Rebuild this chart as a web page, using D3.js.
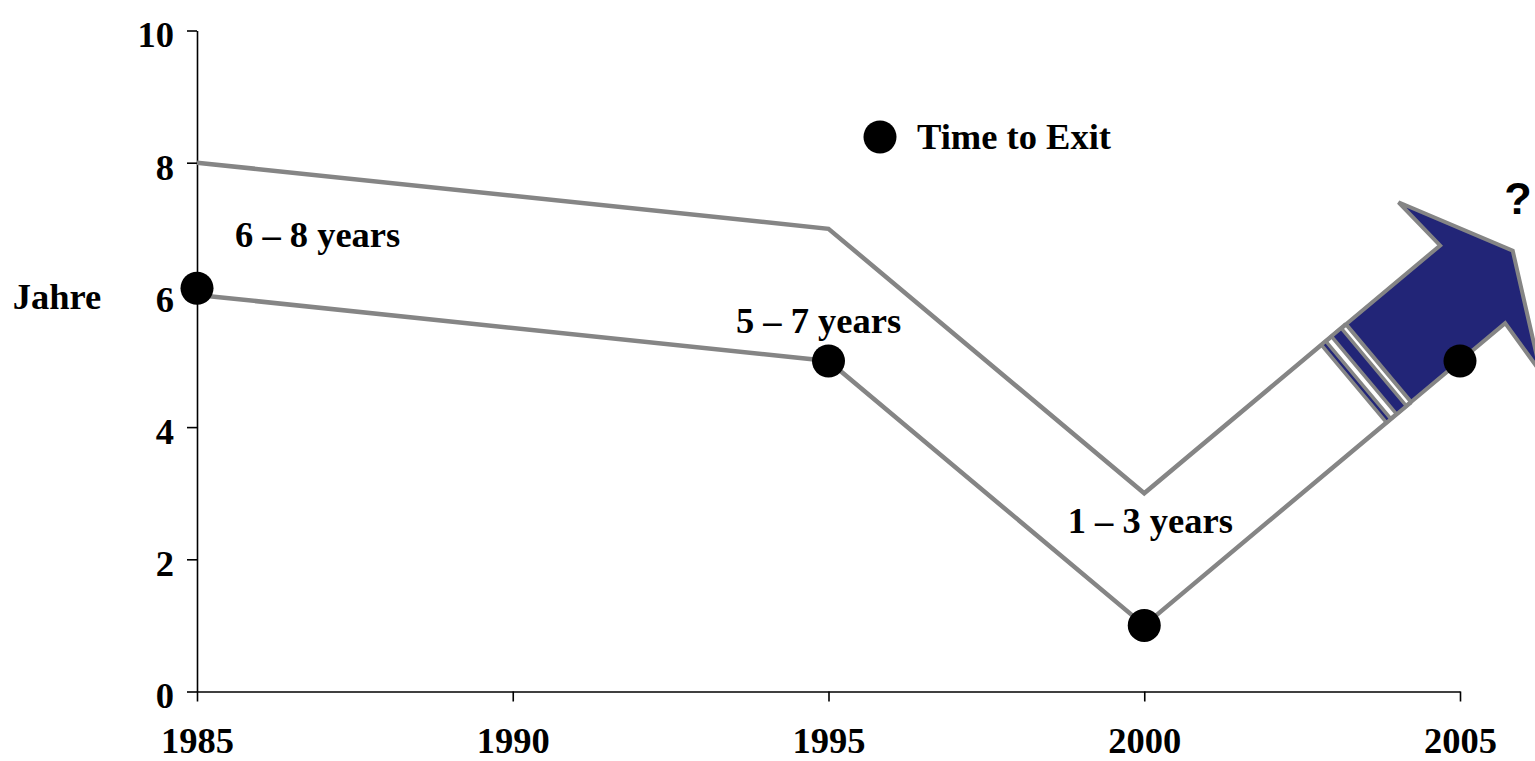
<!DOCTYPE html>
<html>
<head>
<meta charset="utf-8">
<script src="https://cdn.jsdelivr.net/npm/d3@7"></script>
<style>
  body { margin: 0; background: #fff; }
  svg text { font-family: "Liberation Serif", "Times New Roman", serif; font-weight: bold; fill: #000; }
</style>
</head>
<body>
<div id="chart"></div>
<script>
// Time to Exit chart data
const years = [1985, 1995, 2000, 2005];
const exitTime = [6.1, 5, 1, 5];
const rangeYears = [1985, 1995, 2000];
const upperBound = [8, 7, 3];
const lowerBound = [6, 5, 1];
const rangeLabels = ['6 \u2013 8 years', '5 \u2013 7 years', '1 \u2013 3 years'];
const trendEnd = { year: 2005, upper: 7, lower: 5 };
const xTicks = [1985, 1990, 1995, 2000, 2005];
const yTicks = [0, 2, 4, 6, 8, 10];

const W = 1535, H = 761;
const svg = d3.select('#chart').append('svg')
    .attr('width', W)
    .attr('height', H);

const x = d3.scaleLinear().domain([1985, 2005]).range([197, 1460]);
const y = d3.scaleLinear().domain([0, 10]).range([691.5, 30.5]);

const fontSize = 36.5;
const gray = '#858585';
const navy = '#222577';

// Axes
const yAxis = svg.append('g')
    .attr('transform', `translate(${x(1985)},0)`)
    .call(d3.axisLeft(y).tickValues(yTicks).tickSize(10).tickSizeOuter(0).tickPadding(13));
const xAxis = svg.append('g')
    .attr('transform', `translate(0,${y(0)})`)
    .call(d3.axisBottom(x).tickValues(xTicks).tickFormat(d3.format('d')).tickSize(10).tickSizeOuter(0));

[yAxis, xAxis].forEach(g => {
    g.select('.domain').attr('stroke', '#000').attr('stroke-width', 1.6);
    g.selectAll('.tick line').attr('stroke', '#000').attr('stroke-width', 1.6);
    g.selectAll('.tick text')
        .style('font-family', '"Liberation Serif", "Times New Roman", serif')
        .style('font-weight', 'bold')
        .style('font-size', fontSize + 'px')
        .attr('fill', '#000');
});
yAxis.selectAll('.tick text').attr('dy', '0.45em');
xAxis.selectAll('.tick text').attr('dy', 0).attr('y', 61);

// Y axis title
svg.append('text')
    .attr('x', 57)
    .attr('y', 309)
    .attr('text-anchor', 'middle')
    .style('font-size', fontSize + 'px')
    .text('Jahre');

// Trend arrow geometry (from the range lines at 2000 to their 2005 trend)
const p0u = [x(rangeYears[2]), y(upperBound[2])];
const p0l = [x(rangeYears[2]), y(lowerBound[2])];
const p1u = [x(trendEnd.year), y(trendEnd.upper)];
const p1l = [x(trendEnd.year), y(trendEnd.lower)];
const m0 = [(p0u[0] + p0l[0]) / 2, (p0u[1] + p0l[1]) / 2];
const m1 = [(p1u[0] + p1l[0]) / 2, (p1u[1] + p1l[1]) / 2];
const len = Math.hypot(m1[0] - m0[0], m1[1] - m0[1]);
const u = [(m1[0] - m0[0]) / len, (m1[1] - m0[1]) / len];
const n = [-u[1], u[0]];
// half width measured perpendicular to the shaft
const hw = Math.abs((p0l[0] - m0[0]) * n[0] + (p0l[1] - m0[1]) * n[1]);
const pt = (a, b) => [m0[0] + u[0] * a + n[0] * b, m0[1] + u[1] * a + n[1] * b];

const bodyStart = 0.742 * len;
const notch = 1.04 * len;
const barb = 1.03 * len;
const tip = 1.167 * len;
const barbW = 2.18 * hw;

// Range boundary lines
const line = d3.line().x(d => d[0]).y(d => d[1]);
const upperPts = rangeYears.map((yr, i) => [x(yr), y(upperBound[i])]).concat([pt(bodyStart, -hw)]);
const lowerPts = rangeYears.map((yr, i) => [x(yr), y(lowerBound[i])]).concat([pt(bodyStart, hw)]);
[upperPts, lowerPts].forEach(pts => {
    svg.append('path')
        .attr('d', line(pts))
        .attr('fill', 'none')
        .attr('stroke', gray)
        .attr('stroke-width', 4.5)
        .attr('stroke-linejoin', 'miter');
});

// Stripes at the arrow tail
const stripes = [[0.664, 0.678], [0.696, 0.727]];
stripes.forEach(s => {
    const a = s[0] * len, b = s[1] * len;
    svg.append('path')
        .attr('d', line([pt(a, -hw), pt(b, -hw), pt(b, hw), pt(a, hw)]) + 'Z')
        .attr('fill', navy)
        .attr('stroke', gray)
        .attr('stroke-width', 3.5);
});

// Arrow body
const arrowPts = [
    pt(bodyStart, -hw), pt(notch, -hw), pt(barb, -barbW), pt(tip, 0),
    pt(barb, barbW), pt(notch, hw), pt(bodyStart, hw)
];
svg.append('path')
    .attr('d', line(arrowPts) + 'Z')
    .attr('fill', navy)
    .attr('stroke', gray)
    .attr('stroke-width', 4)
    .attr('stroke-linejoin', 'miter');

// Data points
svg.selectAll('circle.pt')
    .data(years.map((yr, i) => ({ yr, v: exitTime[i] })))
    .join('circle')
    .attr('class', 'pt')
    .attr('cx', d => x(d.yr))
    .attr('cy', d => y(d.v))
    .attr('r', 16.5)
    .attr('fill', '#000');

// Range labels
const labelPos = [
    { dx: 38, dy: -41, anchor: 'start' },
    { dx: -10, dy: -28, anchor: 'middle' },
    { dx: 6, dy: -92, anchor: 'middle' }
];
rangeLabels.forEach((t, i) => {
    svg.append('text')
        .attr('x', x(rangeYears[i]) + labelPos[i].dx)
        .attr('y', y(exitTime[i]) + labelPos[i].dy)
        .attr('text-anchor', labelPos[i].anchor)
        .style('font-size', fontSize + 'px')
        .text(t);
});

// Question mark
svg.append('text')
    .attr('x', 1518)
    .attr('y', 214)
    .attr('text-anchor', 'middle')
    .style('font-family', '"Liberation Sans", Arial, sans-serif')
    .style('font-size', '45px')
    .text('?');

// Legend
svg.append('circle')
    .attr('cx', 880)
    .attr('cy', 137)
    .attr('r', 16.5)
    .attr('fill', '#000');
svg.append('text')
    .attr('x', 917)
    .attr('y', 149)
    .style('font-size', fontSize + 'px')
    .text('Time to Exit');
</script>
</body>
</html>
